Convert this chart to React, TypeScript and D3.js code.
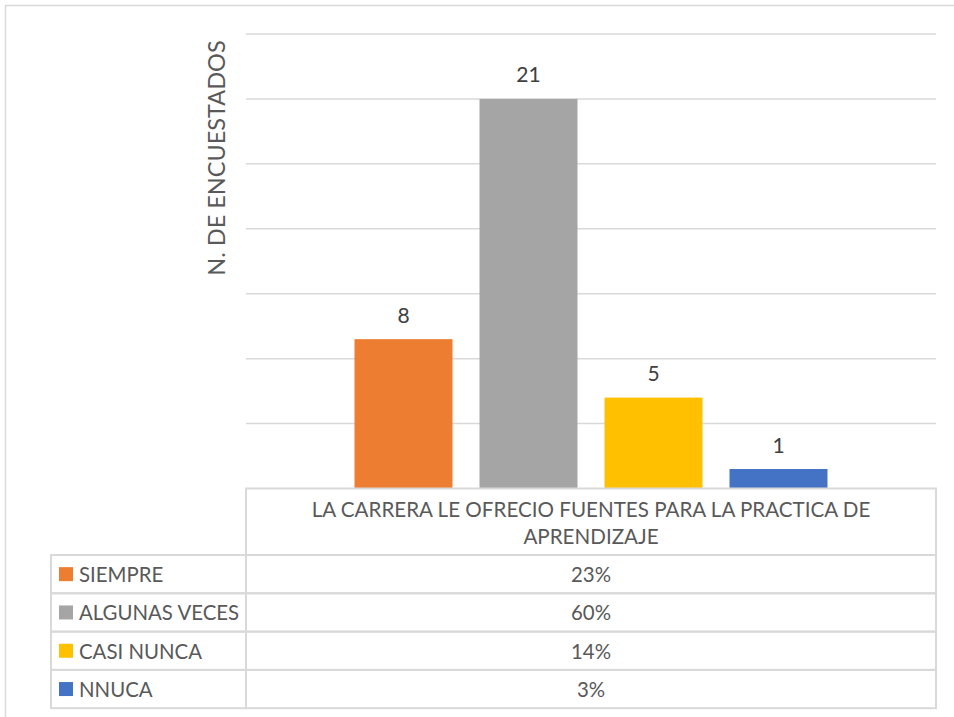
import React from "react";
import * as d3 from "d3";

// data
const category = ["LA CARRERA LE OFRECIO FUENTES PARA LA PRACTICA DE", "APRENDIZAJE"];
const series = ["SIEMPRE", "ALGUNAS VECES", "CASI NUNCA", "NNUCA"];
const counts = [8, 21, 5, 1];
const percents = [23, 60, 14, 3];
const colors = ["#ED7D31", "#A5A5A5", "#FFC000", "#4472C4"];
const yTicks = [0, 10, 20, 30, 40, 50, 60, 70];

const W = 954;
const H = 717;
const font = "Lato, 'Open Sans', sans-serif";
const textColor = "#595959";
const lineColor = "#D9D9D9";

export default function App() {
  const plot = { left: 246, right: 936, top: 34, bottom: 488.5 };
  const table = { left: 51, headerBottom: 555, rowH: 38.3 };

  const y = d3.scaleLinear().domain([0, 70]).range([plot.bottom, plot.top]);

  // one category; the four series sit in the middle 68.5% of it
  const catW = plot.right - plot.left;
  const groupW = catW * 0.6855;
  const gx0 = plot.left + (catW - groupW) / 2;
  const x = d3
    .scaleBand<string>()
    .domain(series)
    .range([gx0, gx0 + groupW])
    .paddingInner(0.216)
    .paddingOuter(0);

  const colCenter = (plot.left + plot.right) / 2;
  const rowTop = (i: number) => table.headerBottom + i * table.rowH;

  return (
    <svg
      width={W}
      height={H}
      style={{ position: "absolute", left: 0, top: 0, background: "#fff" }}
      fontFamily={font}
    >
      {/* outer chart border */}
      <rect x={5.5} y={5.5} width={W + 10} height={H + 10} fill="none" stroke={lineColor} strokeWidth={1.5} />

      {/* gridlines */}
      {yTicks.slice(1).map(t => (
        <line key={t} x1={plot.left} x2={plot.right} y1={y(t)} y2={y(t)} stroke={lineColor} strokeWidth={1.5} />
      ))}

      {/* y axis title */}
      <text
        transform={`translate(225, 158) rotate(-90)`}
        textAnchor="middle"
        fontSize={23.5}
        fill={textColor}
      >
        N. DE ENCUESTADOS
      </text>

      {/* bars */}
      {series.map((s, i) => (
        <g key={s}>
          <rect
            x={x(s)}
            y={y(percents[i])}
            width={x.bandwidth()}
            height={plot.bottom - y(percents[i])}
            fill={colors[i]}
          />
          <text
            x={(x(s) as number) + x.bandwidth() / 2}
            y={y(percents[i]) - 16.5}
            textAnchor="middle"
            fontSize={21}
            fill="#404040"
          >
            {counts[i]}
          </text>
        </g>
      ))}

      {/* data table */}
      <g fill="none" stroke={lineColor} strokeWidth={2}>
        <rect x={plot.left} y={plot.bottom} width={catW} height={table.headerBottom - plot.bottom} />
        {series.map((s, i) => (
          <g key={s}>
            <rect x={table.left} y={rowTop(i)} width={plot.left - table.left} height={table.rowH} />
            <rect x={plot.left} y={rowTop(i)} width={catW} height={table.rowH} />
          </g>
        ))}
      </g>

      {category.map((c, i) => (
        <text key={c} x={colCenter} y={517 + i * 26.5} textAnchor="middle" fontSize={20.6} fill={textColor}>
          {c}
        </text>
      ))}

      {series.map((s, i) => (
        <g key={s}>
          <rect x={59} y={rowTop(i) + table.rowH / 2 - 7} width={14} height={14} fill={colors[i]} />
          <text x={79} y={rowTop(i) + table.rowH / 2 + 8} fontSize={20.4} fill={textColor}>
            {s}
          </text>
          <text x={colCenter} y={rowTop(i) + table.rowH / 2 + 8} textAnchor="middle" fontSize={20.4} fill={textColor}>
            {percents[i]}%
          </text>
        </g>
      ))}
    </svg>
  );
}
